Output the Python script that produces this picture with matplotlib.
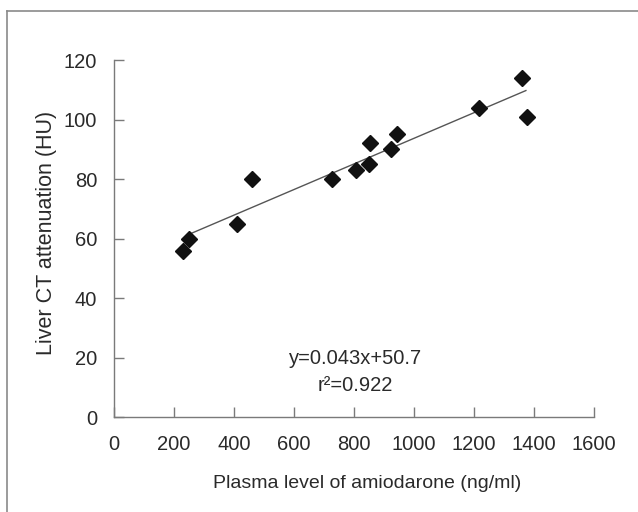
import matplotlib
matplotlib.use("Agg")
import matplotlib.pyplot as plt
from matplotlib.lines import Line2D

plt.rcParams['font.family'] = ['Liberation Sans', 'DejaVu Sans']

# data
plasma_level = [230, 250, 410, 460, 727, 808, 851, 854, 924, 943, 1217, 1361, 1377]
liver_ct = [56, 60, 65, 80, 80, 83, 85, 92, 90, 95, 104, 114, 101]

slope = 0.043
intercept = 50.7
fit_x = [250, 1373]

x_ticks = [0, 200, 400, 600, 800, 1000, 1200, 1400, 1600]
y_ticks = [0, 20, 40, 60, 80, 100, 120]

eq_text = "y=0.043x+50.7"
r2_text = "r\u00b2=0.922"

axis_col = '#7a7a7a'
text_col = '#2a2a2a'

fig = plt.figure(figsize=(6.38, 5.12), dpi=100)
ax = fig.add_axes([114 / 638, 1 - 417.3 / 512, (594 - 114) / 638, (417.3 - 60) / 512])

fit_y = [slope * x + intercept for x in fit_x]
ax.plot(fit_x, fit_y, color='#555555', lw=1.0, zorder=2)
ax.plot(plasma_level, liver_ct, 'D', color='#111111', markersize=7.8, zorder=3)

ax.set_xlim(0, 1600)
ax.set_ylim(0, 120)
ax.set_xticks(x_ticks)
ax.set_yticks(y_ticks)

for side in ['top', 'right']:
    ax.spines[side].set_visible(False)
for side in ['left', 'bottom']:
    ax.spines[side].set_color(axis_col)
    ax.spines[side].set_linewidth(1.0)

ax.tick_params(axis='both', direction='in', length=7, width=1.0, color=axis_col,
               labelsize=14.5, labelcolor=text_col)
ax.tick_params(axis='x', pad=12.5)
ax.tick_params(axis='y', pad=12)

ax.text(804, 19.9, eq_text, ha='center', va='center', fontsize=14.5, color=text_col)
ax.text(804, 10.8, r2_text, ha='center', va='center', fontsize=14.5, color=text_col)

fig.text(367.5 / 638, 1 - 483 / 512, 'Plasma level of amiodarone (ng/ml)',
         ha='center', va='center', fontsize=14, color=text_col)
fig.text(47 / 638, 1 - 233 / 512, 'Liver CT attenuation (HU)', rotation=90,
         ha='center', va='center', fontsize=15.5, color=text_col)

# outer frame around the figure
frame_col = '#8a8a8a'
fig.add_artist(Line2D([7 / 638, 1.0], [1 - 11 / 512, 1 - 11 / 512], color=frame_col, lw=1.2,
                      transform=fig.transFigure))
fig.add_artist(Line2D([7 / 638, 7 / 638], [0, 1 - 11 / 512], color=frame_col, lw=1.2,
                      transform=fig.transFigure))

fig.savefig('out.png', dpi=100)
